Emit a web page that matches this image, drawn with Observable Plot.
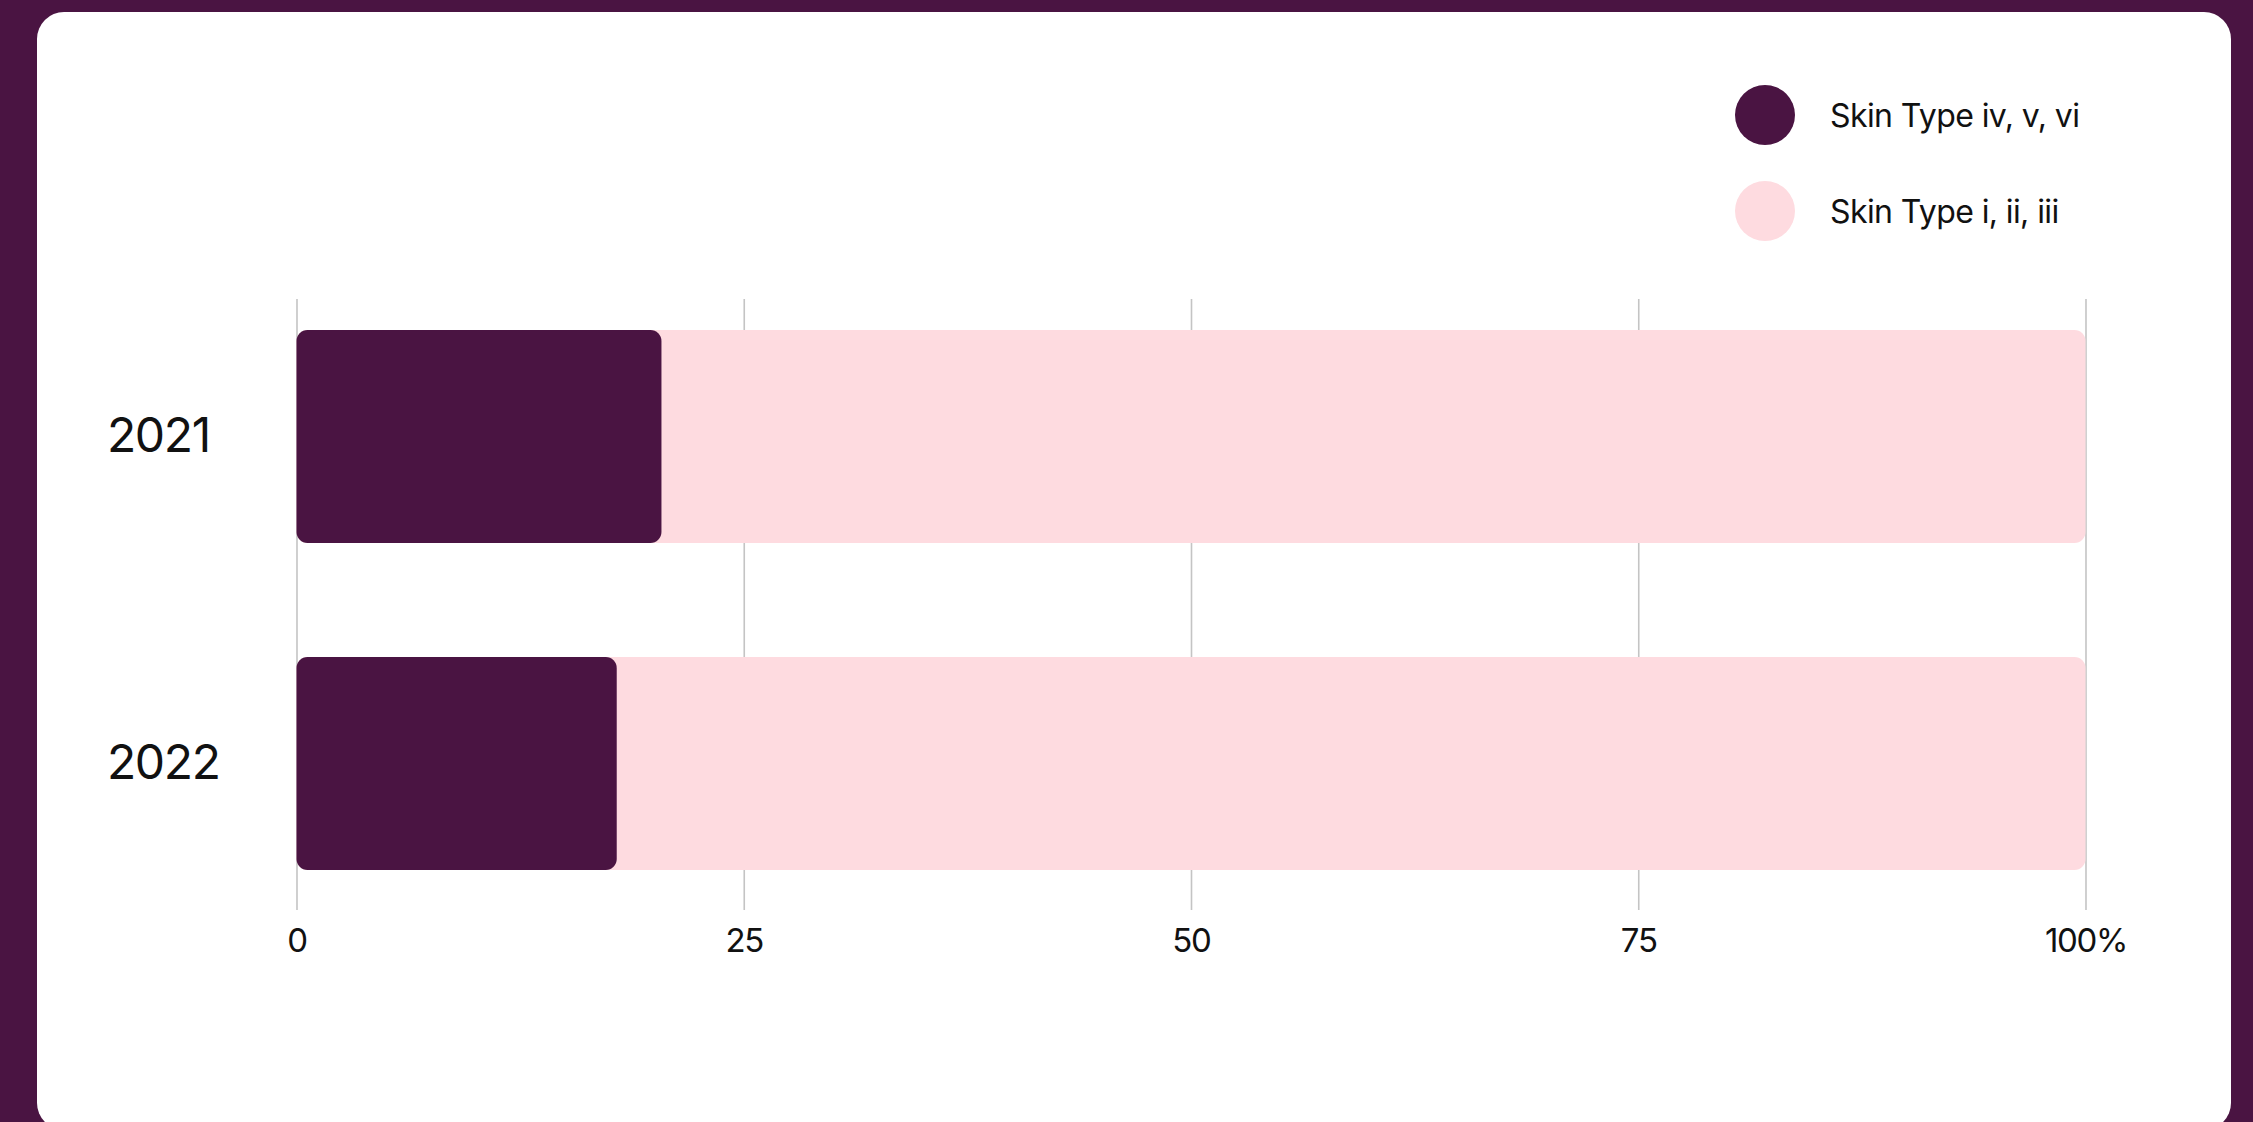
<!DOCTYPE html>
<html>
<head>
<meta charset="utf-8">
<script src="https://cdn.jsdelivr.net/npm/d3@7"></script>
<script src="https://cdn.jsdelivr.net/npm/@observablehq/plot@0.6"></script>
<style>
  html, body { margin: 0; padding: 0; width: 2253px; height: 1122px; overflow: hidden; background: #4A1442; font-family: Inter, "Noto Sans", sans-serif; }
  #card { position: absolute; left: 37px; top: 12px; width: 2194px; height: 1118px; background: #fff; border-radius: 27px; }
  #chart { position: absolute; left: 0; top: 0; }
  #legend { position: absolute; left: 1735px; top: 85px; }
  .row { display: flex; align-items: center; height: 60px; margin-bottom: 36px; }
  .dot { width: 60px; height: 60px; border-radius: 50%; margin-right: 35px; }
  .lab { font-size: 32px; letter-spacing: -0.6px; color: #111; }
  #chart svg text { font-variant-numeric: normal !important; font-variant: normal !important; }
  #chart svg g[aria-label="x-axis tick label"] text { letter-spacing: -1.3px; }
  #chart svg g[aria-label="y-axis tick label"] text { letter-spacing: -1.4px; }
</style>
</head>
<body>
<div id="card"></div>
<div id="chart"></div>
<div id="legend"></div>
<script>
const years = ["2021", "2022"];
const darkShare = [20.4, 17.9];
const lightShare = [79.6, 82.1];
const seriesNames = ["Skin Type iv, v, vi", "Skin Type i, ii, iii"];
const seriesColors = ["#4A1442", "#FEDBE0"];
const xTicks = [0, 25, 50, 75, 100];

const rows = years.map((y, i) => ({year: y, dark: darkShare[i], light: lightShare[i]}));

const legend = document.getElementById("legend");
seriesNames.forEach((name, i) => {
  const r = document.createElement("div");
  r.className = "row";
  r.innerHTML = `<div class="dot" style="background:${seriesColors[i]}"></div><div class="lab">${name}</div>`;
  legend.appendChild(r);
});

const chart = Plot.plot({
  width: 2253,
  height: 1000,
  marginLeft: 296.5,
  marginRight: 167.5,
  marginTop: 299,
  marginBottom: 90,
  style: {fontFamily: "Inter, sans-serif", background: "transparent", color: "#111"},
  x: {domain: [0, 100], ticks: xTicks},
  y: {domain: years, paddingInner: 0.35, paddingOuter: 0.108, align: 0.437},
  marks: [
    Plot.ruleX(xTicks, {stroke: "#c4c4c4", strokeWidth: 1.6}),
    Plot.barX(rows, {y: "year", x1: 0, x2: d => d.dark + d.light, fill: seriesColors[1], rx: 11}),
    Plot.barX(rows, {y: "year", x1: 0, x2: "dark", fill: seriesColors[0], rx: 11}),
    Plot.axisX({ticks: xTicks, tickSize: 0, tickPadding: 18, fontSize: 33, label: null, fontVariant: "normal",
      tickFormat: d => d === 100 ? "100%" : String(d)}),
    Plot.axisY({tickSize: 0, tickPadding: 190, textAnchor: "start", fontSize: 48, label: null, fontVariant: "normal"})
  ]
});
document.getElementById("chart").appendChild(chart);
</script>
</body>
</html>
